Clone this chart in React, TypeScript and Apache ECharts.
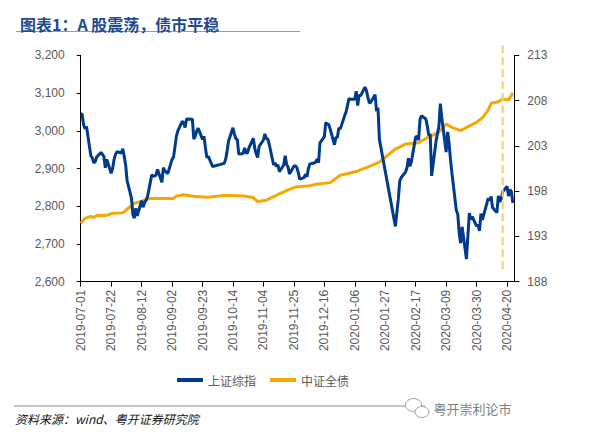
import React, { useEffect, useRef } from "react";
import * as echarts from "echarts";

// ---------- data ----------
const startDay = "2019-07-01";
const endDay = "2020-04-25";

const shComposite: [string, number][] = [
  ["2019-07-01", 3044.9], ["2019-07-02", 3043.9], ["2019-07-03", 3015.3], ["2019-07-04", 3005.3], ["2019-07-05", 3011.1],
  ["2019-07-08", 2933.4], ["2019-07-09", 2928.2], ["2019-07-10", 2915.3], ["2019-07-11", 2917.8], ["2019-07-12", 2930.6],
  ["2019-07-15", 2942.2], ["2019-07-16", 2937.6], ["2019-07-17", 2931.7], ["2019-07-18", 2902.0], ["2019-07-19", 2924.2],
  ["2019-07-22", 2887.0], ["2019-07-23", 2899.9], ["2019-07-24", 2923.3], ["2019-07-25", 2937.4], ["2019-07-26", 2944.5],
  ["2019-07-29", 2941.0], ["2019-07-30", 2952.3], ["2019-07-31", 2932.5], ["2019-08-01", 2908.8], ["2019-08-02", 2867.8],
  ["2019-08-05", 2821.5], ["2019-08-06", 2777.6], ["2019-08-07", 2768.7], ["2019-08-08", 2794.6], ["2019-08-09", 2774.8],
  ["2019-08-12", 2815.0], ["2019-08-13", 2797.3], ["2019-08-14", 2808.9], ["2019-08-15", 2815.8], ["2019-08-16", 2823.8],
  ["2019-08-19", 2883.1], ["2019-08-20", 2880.3], ["2019-08-21", 2880.0], ["2019-08-22", 2883.4], ["2019-08-23", 2897.4],
  ["2019-08-26", 2863.6], ["2019-08-27", 2902.2], ["2019-08-28", 2893.8], ["2019-08-29", 2890.9], ["2019-08-30", 2886.2],
  ["2019-09-02", 2924.1], ["2019-09-03", 2930.2], ["2019-09-04", 2957.4], ["2019-09-05", 2985.9], ["2019-09-06", 2999.6],
  ["2019-09-09", 3024.7], ["2019-09-10", 3021.2], ["2019-09-11", 3008.8], ["2019-09-12", 3031.2], ["2019-09-16", 3030.8],
  ["2019-09-17", 2978.1], ["2019-09-18", 2985.7], ["2019-09-19", 2999.3], ["2019-09-20", 3006.5], ["2019-09-23", 2977.1],
  ["2019-09-24", 2985.3], ["2019-09-25", 2955.4], ["2019-09-26", 2929.1], ["2019-09-27", 2932.2], ["2019-09-30", 2905.2],
  ["2019-10-08", 2913.6], ["2019-10-09", 2924.9], ["2019-10-10", 2947.7], ["2019-10-11", 2973.7], ["2019-10-14", 3007.9],
  ["2019-10-15", 2991.1], ["2019-10-16", 2978.7], ["2019-10-17", 2977.3], ["2019-10-18", 2938.1], ["2019-10-21", 2939.6],
  ["2019-10-22", 2954.4], ["2019-10-23", 2941.6], ["2019-10-24", 2940.9], ["2019-10-25", 2954.9], ["2019-10-28", 2980.1],
  ["2019-10-29", 2954.2], ["2019-10-30", 2939.3], ["2019-10-31", 2929.1], ["2019-11-01", 2958.2], ["2019-11-04", 2975.5],
  ["2019-11-05", 2991.6], ["2019-11-06", 2978.6], ["2019-11-07", 2978.7], ["2019-11-08", 2964.2], ["2019-11-11", 2910.0],
  ["2019-11-12", 2914.8], ["2019-11-13", 2905.2], ["2019-11-14", 2909.9], ["2019-11-15", 2891.3], ["2019-11-18", 2909.2],
  ["2019-11-19", 2934.0], ["2019-11-20", 2911.1], ["2019-11-21", 2903.6], ["2019-11-22", 2885.3], ["2019-11-25", 2906.2],
  ["2019-11-26", 2907.1], ["2019-11-27", 2903.2], ["2019-11-28", 2889.7], ["2019-11-29", 2872.0], ["2019-12-02", 2875.8],
  ["2019-12-03", 2884.7], ["2019-12-04", 2878.1], ["2019-12-05", 2899.5], ["2019-12-06", 2912.0], ["2019-12-09", 2914.5],
  ["2019-12-10", 2917.3], ["2019-12-11", 2924.4], ["2019-12-12", 2915.7], ["2019-12-13", 2967.7], ["2019-12-16", 2984.4],
  ["2019-12-17", 3022.4], ["2019-12-18", 3017.0], ["2019-12-19", 3017.1], ["2019-12-20", 3004.9], ["2019-12-23", 2962.8],
  ["2019-12-24", 2982.7], ["2019-12-25", 2981.9], ["2019-12-26", 3007.4], ["2019-12-27", 3005.0], ["2019-12-30", 3040.0],
  ["2019-12-31", 3050.1], ["2020-01-02", 3085.2], ["2020-01-03", 3083.8], ["2020-01-06", 3083.4], ["2020-01-07", 3104.8],
  ["2020-01-08", 3066.9], ["2020-01-09", 3094.9], ["2020-01-10", 3092.3], ["2020-01-13", 3115.6], ["2020-01-14", 3106.8],
  ["2020-01-15", 3090.0], ["2020-01-16", 3074.1], ["2020-01-17", 3075.5], ["2020-01-20", 3095.8], ["2020-01-21", 3052.1],
  ["2020-01-22", 3060.8], ["2020-01-23", 2976.5], ["2020-02-03", 2746.6], ["2020-02-04", 2783.3], ["2020-02-05", 2818.1],
  ["2020-02-06", 2866.5], ["2020-02-07", 2876.0], ["2020-02-10", 2890.5], ["2020-02-11", 2901.7], ["2020-02-12", 2926.9],
  ["2020-02-13", 2906.1], ["2020-02-14", 2917.0], ["2020-02-17", 2983.6], ["2020-02-18", 2985.0], ["2020-02-19", 2975.4],
  ["2020-02-20", 3030.2], ["2020-02-21", 3039.7], ["2020-02-24", 3031.2], ["2020-02-25", 3013.1], ["2020-02-26", 2987.9],
  ["2020-02-27", 2991.3], ["2020-02-28", 2880.3], ["2020-03-02", 2970.9], ["2020-03-03", 2992.9], ["2020-03-04", 3011.7],
  ["2020-03-05", 3071.7], ["2020-03-06", 3034.5], ["2020-03-09", 2943.3], ["2020-03-10", 2996.8], ["2020-03-11", 2968.5],
  ["2020-03-12", 2923.5], ["2020-03-13", 2887.4], ["2020-03-16", 2789.3], ["2020-03-17", 2779.6], ["2020-03-18", 2728.8],
  ["2020-03-19", 2702.1], ["2020-03-20", 2745.6], ["2020-03-23", 2660.2], ["2020-03-24", 2722.4], ["2020-03-25", 2781.6],
  ["2020-03-26", 2764.9], ["2020-03-27", 2772.2], ["2020-03-30", 2747.2], ["2020-03-31", 2750.3], ["2020-04-01", 2734.5],
  ["2020-04-02", 2780.6], ["2020-04-03", 2764.0], ["2020-04-07", 2820.8], ["2020-04-08", 2815.4], ["2020-04-09", 2825.9],
  ["2020-04-10", 2796.6], ["2020-04-13", 2783.1], ["2020-04-14", 2827.3], ["2020-04-15", 2811.2], ["2020-04-16", 2819.9],
  ["2020-04-17", 2838.5], ["2020-04-20", 2852.6], ["2020-04-21", 2827.0], ["2020-04-22", 2844.0], ["2020-04-23", 2838.5],
  ["2020-04-24", 2808.5],
];

const bondIndex: [string, number][] = [
  ["2019-07-01", 194.46], ["2019-07-04", 195.0], ["2019-07-08", 195.2], ["2019-07-10", 195.1], ["2019-07-12", 195.3],
  ["2019-07-18", 195.3], ["2019-07-23", 195.55], ["2019-07-30", 195.6], ["2019-08-02", 196.0], ["2019-08-07", 196.66],
  ["2019-08-12", 196.9], ["2019-08-16", 197.1], ["2019-08-19", 197.2], ["2019-08-26", 197.2], ["2019-09-03", 197.2],
  ["2019-09-05", 197.45], ["2019-09-10", 197.6], ["2019-09-18", 197.4], ["2019-09-27", 197.33], ["2019-10-09", 197.55],
  ["2019-10-21", 197.47], ["2019-10-28", 197.29], ["2019-10-31", 196.85], ["2019-11-06", 197.0], ["2019-11-15", 197.7],
  ["2019-11-21", 198.15], ["2019-11-26", 198.45], ["2019-12-06", 198.6], ["2019-12-10", 198.75], ["2019-12-20", 198.94],
  ["2019-12-27", 199.75], ["2020-01-07", 200.16], ["2020-01-17", 200.8], ["2020-01-23", 201.2], ["2020-02-03", 202.65],
  ["2020-02-10", 203.2], ["2020-02-19", 203.35], ["2020-02-26", 204.0], ["2020-03-04", 204.5], ["2020-03-09", 205.4],
  ["2020-03-13", 205.05], ["2020-03-19", 204.68], ["2020-03-25", 205.2], ["2020-03-30", 205.6], ["2020-04-03", 206.1],
  ["2020-04-07", 206.95], ["2020-04-09", 207.7], ["2020-04-14", 207.88], ["2020-04-17", 208.18], ["2020-04-21", 208.05],
  ["2020-04-24", 208.85],
];

const leftTicks = [2600, 2700, 2800, 2900, 3000, 3100, 3200];
const rightTicks = [188, 193, 198, 203, 208, 213];
const markerLine = { date: "2020-04-17", from: 214.1, to: 189.3 };

const titleText = "图表1：A 股震荡，债市平稳";
const sourceText = "资料来源：wind、粤开证券研究院";
const watermarkText = "粤开崇利论市";
const seriesNames = ["上证综指", "中证全债"];

// calendar-day categories
function buildDays(a: string, b: string): string[] {
  const out: string[] = [];
  let t = Date.parse(a + "T00:00:00Z");
  const e = Date.parse(b + "T00:00:00Z");
  while (t <= e) {
    out.push(new Date(t).toISOString().slice(0, 10));
    t += 86400000;
  }
  return out;
}
const categories = buildDays(startDay, endDay);

function toSeries(pairs: [string, number][]): (number | null)[] {
  const m = new Map(pairs);
  return categories.map((d) => (m.has(d) ? (m.get(d) as number) : null));
}

const NUM_FONT = "'Liberation Sans', Arial, sans-serif";
const CJK_FONT = "'Noto Sans CJK SC', 'Liberation Sans', sans-serif";
const BLUE = "#003A8C";
const ORANGE = "#F5A800";
const GRAY = "#595959";

export default function App() {
  const ref = useRef<HTMLDivElement>(null);
  useEffect(() => {
    if (!ref.current) return;
    const chart = echarts.init(ref.current, undefined, { renderer: "svg" });
    const option: any = {
      animation: false,
      backgroundColor: "#ffffff",
      title: {
        text: titleText,
        left: 15,
        top: 11,
        textStyle: { fontFamily: CJK_FONT, fontSize: 16, fontWeight: "bold", color: "#1F4991" },
      },
      legend: {
        left: 172,
        top: 369,
        icon: "rect",
        itemWidth: 26,
        itemHeight: 4,
        itemGap: 14,
        data: seriesNames,
        textStyle: { fontFamily: CJK_FONT, fontSize: 12, color: GRAY },
      },
      grid: { left: 80.7, right: 78.7, top: 55.3, bottom: 154.3, containLabel: false },
      xAxis: {
        type: "category",
        data: categories,
        boundaryGap: false,
        axisLine: { lineStyle: { color: "#000", width: 1 } },
        axisTick: { show: true, interval: 20, length: 5, lineStyle: { color: "#000" } },
        axisLabel: {
          interval: 20,
          rotate: 90,
          margin: 8,
          fontSize: 12,
          color: GRAY,
          fontFamily: NUM_FONT,
        },
        splitLine: { show: false },
      },
      yAxis: [
        {
          type: "value",
          min: leftTicks[0],
          max: leftTicks[leftTicks.length - 1],
          interval: 100,
          axisLine: { show: true, lineStyle: { color: "#000", width: 1 } },
          axisTick: { show: true, length: 4, lineStyle: { color: "#000" } },
          axisLabel: {
            margin: 16,
            fontSize: 12,
            color: GRAY,
            fontFamily: NUM_FONT,
            formatter: (v: number) => v.toLocaleString("en-US"),
          },
          splitLine: { show: false },
        },
        {
          type: "value",
          min: rightTicks[0],
          max: rightTicks[rightTicks.length - 1],
          position: "right",
          axisLine: { show: true, lineStyle: { color: "#000", width: 1 } },
          axisTick: { show: true, length: 5, lineStyle: { color: "#000" }, customValues: rightTicks },
          axisLabel: {
            margin: 13,
            fontSize: 12,
            color: GRAY,
            fontFamily: NUM_FONT,
            customValues: rightTicks,
          },
          splitLine: { show: false },
        },
      ],
      series: [
        {
          name: seriesNames[1],
          type: "line",
          yAxisIndex: 1,
          data: toSeries(bondIndex),
          connectNulls: true,
          showSymbol: false,
          symbol: "none",
          lineStyle: { color: ORANGE, width: 3 },
          itemStyle: { color: ORANGE },
          z: 2,
        },
        {
          name: seriesNames[0],
          type: "line",
          yAxisIndex: 0,
          data: toSeries(shComposite),
          connectNulls: true,
          showSymbol: false,
          symbol: "none",
          lineStyle: { color: BLUE, width: 3 },
          itemStyle: { color: BLUE },
          z: 3,
        },
      ],
    };
    chart.setOption(option);

    const mx = chart.convertToPixel({ xAxisIndex: 0 }, markerLine.date) as number;
    const my1 = chart.convertToPixel({ yAxisIndex: 1 }, markerLine.from) as number;
    const my2 = chart.convertToPixel({ yAxisIndex: 1 }, markerLine.to) as number;

    chart.setOption({
      graphic: [
        {
          type: "line",
          id: "titleRule",
          shape: { x1: 16, y1: 31.5, x2: 300, y2: 31.5 },
          style: { stroke: "#9a9a9a", lineWidth: 1.2 },
          silent: true,
        },
        {
          type: "line",
          id: "marker",
          shape: { x1: mx, y1: my1, x2: mx, y2: my2 },
          style: { stroke: "#F8CB74", lineWidth: 2, lineDash: [8, 4] },
          z: 10,
          silent: true,
        },
        {
          type: "line",
          id: "footRule",
          shape: { x1: 14, y1: 406, x2: 425, y2: 406 },
          style: { stroke: "#8c8c8c", lineWidth: 1 },
          silent: true,
        },
        {
          type: "text",
          id: "source",
          left: 15,
          top: 412,
          style: {
            text: sourceText,
            fontFamily: CJK_FONT,
            fontSize: 12,
            fontStyle: "italic",
            fill: "#111",
          },
          silent: true,
        },
        {
          type: "ellipse",
          id: "wm1",
          shape: { cx: 413.5, cy: 405, rx: 8, ry: 6.5 },
          style: { fill: "#fff", stroke: "#a0a0a0", lineWidth: 1 },
          z: 20,
          silent: true,
        },
        {
          type: "ellipse",
          id: "wm2",
          shape: { cx: 422, cy: 412, rx: 7, ry: 5.5 },
          style: { fill: "#fff", stroke: "#a0a0a0", lineWidth: 1 },
          z: 21,
          silent: true,
        },
        {
          type: "text",
          id: "wmText",
          left: 432,
          top: 400,
          style: {
            text: watermarkText,
            fontFamily: CJK_FONT,
            fontSize: 13,
            fill: "#808080",
            stroke: "#ffffff",
            lineWidth: 3,
          },
          z: 22,
          silent: true,
        },
      ],
    });

    return () => chart.dispose();
  }, []);

  return (
    <div
      ref={ref}
      style={{ position: "absolute", left: 0, top: 0, width: 593, height: 436, background: "#fff" }}
    />
  );
}
